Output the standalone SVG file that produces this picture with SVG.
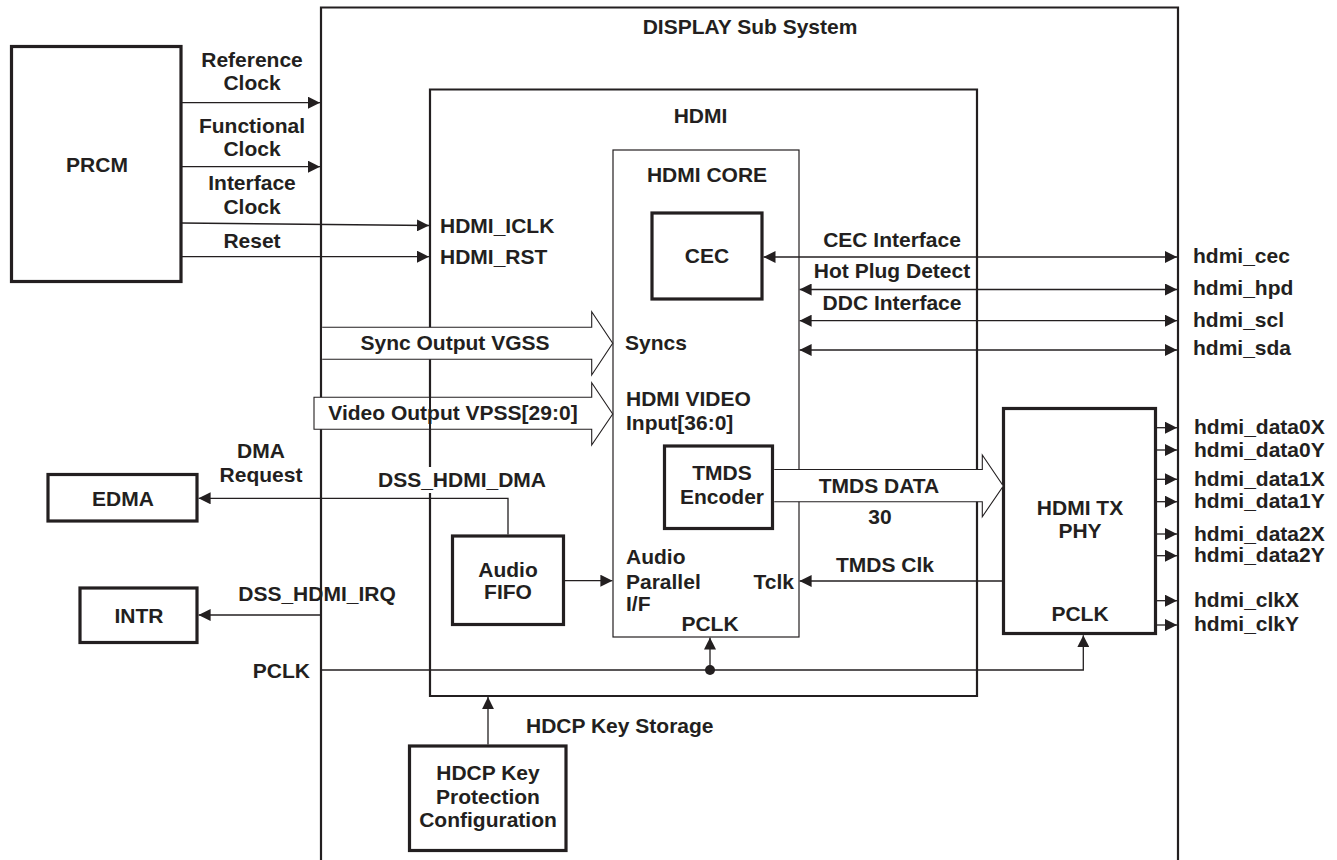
<svg xmlns="http://www.w3.org/2000/svg" width="1337" height="860" viewBox="0 0 1337 860">
<style>
  .t { font-family: "Liberation Sans", Arial, sans-serif; font-weight: bold; font-size: 21px; fill: #231f20; }
  .m { text-anchor: middle; }
  .e { text-anchor: end; }
  .frame { fill: none; stroke: #231f20; stroke-width: 2.2; }
  .core { fill: none; stroke: #231f20; stroke-width: 1.2; }
  .blk { fill: #ffffff; stroke: #231f20; stroke-width: 3.2; }
  .ln { fill: none; stroke: #231f20; stroke-width: 1.3; }
  .bus { fill: none; stroke: #231f20; stroke-width: 1.1; }
  .busfill { fill: #ffffff; stroke: none; }
</style>
<defs>
  <marker id="arr" viewBox="0 0 12 12" markerWidth="12" markerHeight="12" markerUnits="userSpaceOnUse" refX="12" refY="6" orient="auto-start-reverse">
    <path d="M0,0 L12,6 L0,12 Z" fill="#231f20"/>
  </marker>
</defs>
<rect width="1337" height="860" fill="#ffffff"/>

<g id="display-subsystem">
  <path class="frame" d="M321,860 V7.5 H1178 V860"/>
  <text class="t m" x="750" y="34">DISPLAY Sub System</text>
</g>

<g id="hdmi">
  <path class="frame" d="M430,467 V89.5 H977 V696 H430 V493"/>
  <text class="t m" x="700.5" y="123">HDMI</text>
  <text class="t" x="440" y="233">HDMI_ICLK</text>
  <text class="t" x="440" y="264">HDMI_RST</text>
</g>

<g id="hdmi-core">
  <rect class="core" x="613" y="150" width="186" height="487"/>
  <text class="t m" x="707" y="182">HDMI CORE</text>
  <text class="t" x="625" y="350">Syncs</text>
  <text class="t" x="626" y="406">HDMI VIDEO</text>
  <text class="t" x="626" y="430">Input[36:0]</text>
  <text class="t" x="626" y="564">Audio</text>
  <text class="t" x="626" y="589">Parallel</text>
  <text class="t" x="626" y="611">I/F</text>
  <text class="t e" x="794" y="589">Tclk</text>
  <text class="t m" x="710" y="631">PCLK</text>
</g>

<g id="prcm">
  <rect class="blk" x="11.5" y="46.5" width="169.5" height="235"/>
  <text class="t m" x="97" y="172">PRCM</text>
</g>

<g id="cec">
  <rect class="blk" x="652" y="213" width="110" height="86"/>
  <text class="t m" x="707" y="263">CEC</text>
</g>

<g id="tmds-encoder">
  <rect class="blk" x="664.5" y="446" width="108" height="82.5"/>
  <text class="t m" x="722" y="480">TMDS</text>
  <text class="t m" x="722" y="504">Encoder</text>
</g>

<g id="audio-fifo">
  <rect class="blk" x="452.5" y="536" width="111" height="88.5"/>
  <text class="t m" x="508" y="577">Audio</text>
  <text class="t m" x="508" y="599">FIFO</text>
</g>

<g id="hdmi-tx-phy">
  <rect class="blk" x="1003.5" y="408.5" width="152" height="225"/>
  <text class="t m" x="1080" y="515">HDMI TX</text>
  <text class="t m" x="1080" y="538">PHY</text>
  <text class="t m" x="1080" y="621">PCLK</text>
</g>

<g id="edma">
  <rect class="blk" x="48" y="474.5" width="149" height="46.5"/>
  <text class="t m" x="123" y="506">EDMA</text>
</g>

<g id="intr">
  <rect class="blk" x="80" y="588" width="117" height="54.5"/>
  <text class="t m" x="139" y="623">INTR</text>
</g>

<g id="hdcp-key-protection">
  <rect class="blk" x="409.5" y="746" width="156.5" height="104.5"/>
  <text class="t m" x="488" y="780">HDCP Key</text>
  <text class="t m" x="488" y="804">Protection</text>
  <text class="t m" x="488" y="827">Configuration</text>
</g>

<g id="connectors">
  <!-- buses -->
  <path class="busfill" d="M314,397.3 H429 V429.3 H314 Z M431.2,397.3 H591.7 V382.7 L612.7,414 L591.7,445 V429.3 H431.2 Z"/>
  <path class="bus" d="M314,397.3 H591.7 V382.7 L612.7,414 L591.7,445 V429.3 H314 Z"/>
  <path class="busfill" d="M322.2,327.3 H591.7 V311.7 L612.7,343.3 L591.7,375 V359.3 H322.2 Z"/>
  <path class="bus" d="M322.2,327.3 H591.7 V311.7 L612.7,343.3 L591.7,375 V359.3 H322.2"/>
  <path class="busfill" d="M774.2,469.5 H982.3 V455 L1003.3,486 L982.3,516.7 V501.7 H774.2 Z"/>
  <path class="bus" d="M774.2,469.5 H982.3 V455 L1003.3,486 L982.3,516.7 V501.7 H774.2"/>

  <!-- PRCM outputs -->
  <path class="ln" d="M181,102.7 H320" marker-end="url(#arr)"/>
  <path class="ln" d="M181,166.7 H320" marker-end="url(#arr)"/>
  <path class="ln" d="M181,223 L429,225.5" marker-end="url(#arr)"/>
  <path class="ln" d="M181,256.7 H429" marker-end="url(#arr)"/>

  <!-- external HDMI pins -->
  <path class="ln" d="M763.5,257 H1177" marker-start="url(#arr)" marker-end="url(#arr)"/>
  <path class="ln" d="M799.6,289.5 H1177" marker-start="url(#arr)" marker-end="url(#arr)"/>
  <path class="ln" d="M799.6,320.7 H1177" marker-start="url(#arr)" marker-end="url(#arr)"/>
  <path class="ln" d="M799.6,350 H1177" marker-start="url(#arr)" marker-end="url(#arr)"/>

  <!-- PHY outputs -->
  <path class="ln" d="M1157,427.7 H1177" marker-end="url(#arr)"/>
  <path class="ln" d="M1157,450 H1177" marker-end="url(#arr)"/>
  <path class="ln" d="M1157,479.3 H1177" marker-end="url(#arr)"/>
  <path class="ln" d="M1157,501.7 H1177" marker-end="url(#arr)"/>
  <path class="ln" d="M1157,534 H1177" marker-end="url(#arr)"/>
  <path class="ln" d="M1157,555.7 H1177" marker-end="url(#arr)"/>
  <path class="ln" d="M1157,600.7 H1177" marker-end="url(#arr)"/>
  <path class="ln" d="M1157,625 H1177" marker-end="url(#arr)"/>

  <!-- TMDS clock, audio, DMA, IRQ, PCLK, HDCP -->
  <path class="ln" d="M1002,581 H799.6" marker-end="url(#arr)"/>
  <path class="ln" d="M565,580.7 H612.4" marker-end="url(#arr)"/>
  <path class="ln" d="M508,534.4 V498.3 H198.6" marker-end="url(#arr)"/>
  <path class="ln" d="M321,615 H198.6" marker-end="url(#arr)"/>
  <path class="ln" d="M321,670 H1083.3 V635.2" marker-end="url(#arr)"/>
  <path class="ln" d="M710,670 V637.6" marker-end="url(#arr)"/>
  <circle cx="710" cy="670" r="5" fill="#231f20"/>
  <path class="ln" d="M488,744.4 V697.1" marker-end="url(#arr)"/>

  <!-- connector labels -->
  <text class="t m" x="252" y="67">Reference</text>
  <text class="t m" x="252" y="90">Clock</text>
  <text class="t m" x="252" y="133">Functional</text>
  <text class="t m" x="252" y="156">Clock</text>
  <text class="t m" x="252" y="190">Interface</text>
  <text class="t m" x="252" y="214">Clock</text>
  <text class="t m" x="252" y="248">Reset</text>
  <text class="t m" x="892" y="247">CEC Interface</text>
  <text class="t m" x="892" y="278">Hot Plug Detect</text>
  <text class="t m" x="892" y="310">DDC Interface</text>
  <text class="t" x="1193" y="263">hdmi_cec</text>
  <text class="t" x="1193" y="295">hdmi_hpd</text>
  <text class="t" x="1193" y="327">hdmi_scl</text>
  <text class="t" x="1193" y="355">hdmi_sda</text>
  <text class="t m" x="455" y="350">Sync Output VGSS</text>
  <text class="t m" x="453" y="420">Video Output VPSS[29:0]</text>
  <text class="t m" x="879" y="493">TMDS DATA</text>
  <text class="t m" x="880" y="524">30</text>
  <text class="t" x="1194" y="434">hdmi_data0X</text>
  <text class="t" x="1194" y="457">hdmi_data0Y</text>
  <text class="t" x="1194" y="486">hdmi_data1X</text>
  <text class="t" x="1194" y="508">hdmi_data1Y</text>
  <text class="t" x="1194" y="541">hdmi_data2X</text>
  <text class="t" x="1194" y="562">hdmi_data2Y</text>
  <text class="t" x="1194" y="607">hdmi_clkX</text>
  <text class="t" x="1194" y="631">hdmi_clkY</text>
  <text class="t m" x="261" y="458">DMA</text>
  <text class="t m" x="261" y="482">Request</text>
  <text class="t" x="378" y="487">DSS_HDMI_DMA</text>
  <text class="t m" x="885" y="572">TMDS Clk</text>
  <text class="t m" x="317" y="601">DSS_HDMI_IRQ</text>
  <text class="t e" x="310" y="678">PCLK</text>
  <text class="t" x="526" y="733">HDCP Key Storage</text>
</g>
</svg>
